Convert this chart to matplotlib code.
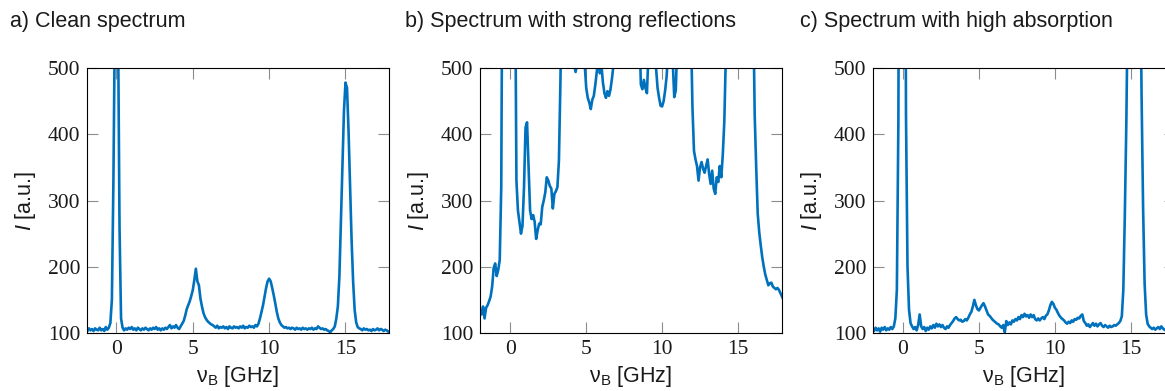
import matplotlib
matplotlib.use("Agg")
import matplotlib.pyplot as plt
import numpy as np

# ---------------- data ----------------
# frequency grid (GHz), 0.1 GHz step from -2.0 to 18.0
freq = np.linspace(-2.0, 18.0, 201)

clean = [
    105, 103, 107, 104, 106, 103, 107, 105, 104, 108,   # -2.0 .. -1.1
    104, 106, 103, 109, 105, 108, 115, 150, 330, 580,   # -1.0 .. -0.1
    900, 580, 260, 122, 108, 104, 107, 105, 108, 106,   #  0.0 ..  0.9
    109, 105, 107, 104, 108, 106, 104, 107, 105, 108,   #  1.0 ..  1.9
    106, 104, 107, 105, 108, 106, 109, 105, 107, 104,   #  2.0 ..  2.9
    107, 105, 108, 106, 109, 112, 107, 110, 108, 112,   #  3.0 ..  3.9
    108, 106, 110, 114, 118, 126, 136, 142, 148, 156,   #  4.0 ..  4.9
    165, 180, 197, 178, 172, 152, 140, 130, 124, 120,   #  5.0 ..  5.9
    117, 115, 113, 112, 110, 108, 111, 107, 109, 108,   #  6.0 ..  6.9
    110, 107, 109, 106, 110, 108, 107, 110, 108, 109,   #  7.0 ..  7.9
    107, 110, 108, 111, 107, 109, 108, 111, 109, 110,   #  8.0 ..  8.9
    108, 112, 110, 114, 122, 132, 142, 155, 168, 178,   #  9.0 ..  9.9
    182, 178, 168, 157, 145, 132, 122, 116, 112, 110,   # 10.0 .. 10.9
    108, 109, 107, 108, 106, 108, 107, 105, 108, 106,   # 11.0 .. 11.9
    107, 105, 108, 106, 107, 105, 107, 106, 108, 105,   # 12.0 .. 12.9
    107, 106, 110, 108, 106, 107, 105, 106, 104, 103,   # 13.0 .. 13.9
    101, 104, 106, 110, 122, 140, 185, 270, 355, 435,   # 14.0 .. 14.9
    478, 470, 405, 320, 240, 178, 135, 116, 109, 107,   # 15.0 .. 15.9
    106, 104, 107, 105, 106, 104, 105, 103, 106, 104,   # 16.0 .. 16.9
    105, 107, 104, 106, 105, 103, 105, 104, 102, 103,   # 17.0 .. 17.9
    103,                                                # 18.0
]

reflections = [
    135, 128, 140, 122, 138, 142, 148, 155, 170, 198,   # -2.0 .. -1.1
    205, 186, 195, 210, 320, 800, 1200, 1500, 1700, 1800,  # -1.0 .. -0.1
    1700, 1300, 900, 700, 330, 285, 268, 250, 262, 320,  #  0.0 ..  0.9
    410, 418, 350, 285, 272, 278, 268, 242, 255, 265,   #  1.0 ..  1.9
    264, 290, 300, 312, 335, 330, 322, 318, 288, 310,   #  2.0 ..  2.9
    314, 320, 360, 480, 650, 720, 770, 780, 720, 650,   #  3.0 ..  3.9
    580, 530, 505, 494, 508, 560, 600, 580, 540, 505,   #  4.0 ..  4.9
    470, 455, 448, 438, 452, 458, 475, 495, 520, 492,   #  5.0 ..  5.9
    505, 478, 462, 455, 465, 458, 468, 485, 505, 540,   #  6.0 ..  6.9
    600, 650, 680, 700, 690, 700, 680, 690, 700, 680,   #  7.0 ..  7.9
    660, 640, 620, 600, 580, 560, 475, 468, 482, 470,   #  8.0 ..  8.9
    462, 520, 580, 590, 560, 540, 500, 470, 455, 443,   #  9.0 ..  9.9
    442, 450, 466, 488, 530, 570, 550, 510, 456, 466,   # 10.0 .. 10.9
    540, 600, 650, 680, 700, 690, 670, 640, 600, 560,   # 11.0 .. 11.9
    440, 375, 362, 352, 330, 350, 358, 348, 342, 352,   # 12.0 .. 12.9
    362, 340, 325, 345, 318, 310, 335, 328, 352, 335,   # 13.0 .. 13.9
    370, 420, 520, 650, 800, 950, 1100, 1250, 1400, 1500,  # 14.0 .. 14.9
    1600, 1650, 1600, 1500, 1400, 1250, 1100, 950, 800, 700,  # 15.0 .. 15.9
    600, 430, 350, 280, 252, 232, 214, 200, 188, 180,   # 16.0 .. 16.9
    172, 175, 176, 170, 168, 166, 168, 165, 160, 155,   # 17.0 .. 17.9
    150,                                                # 18.0
]

absorption = [
    106, 103, 108, 104, 107, 102, 108, 105, 109, 104,   # -2.0 .. -1.1
    107, 105, 109, 106, 110, 122, 165, 420, 1200, 2000,  # -1.0 .. -0.1
    2000, 1200, 430, 200, 135, 115, 110, 106, 109, 104,  #  0.0 ..  0.9
    112, 128, 110, 106, 109, 103, 108, 105, 110, 107,   #  1.0 ..  1.9
    112, 108, 114, 110, 113, 109, 112, 108, 106, 110,   #  2.0 ..  2.9
    108, 112, 115, 118, 122, 124, 121, 119, 120, 117,   #  3.0 ..  3.9
    118, 121, 119, 123, 128, 132, 140, 150, 142, 136,   #  4.0 ..  4.9
    134, 138, 142, 145, 140, 134, 128, 126, 123, 120,   #  5.0 ..  5.9
    118, 116, 114, 113, 110, 108, 112, 101, 118, 112,   #  6.0 ..  6.9
    116, 113, 119, 117, 121, 119, 124, 121, 127, 124,   #  7.0 ..  7.9
    129, 125, 127, 123, 128, 124, 127, 121, 119, 122,   #  8.0 ..  8.9
    119, 122, 124, 121, 126, 128, 134, 142, 147, 144,   #  9.0 ..  9.9
    138, 135, 130, 126, 123, 121, 119, 116, 114, 117,   # 10.0 .. 10.9
    115, 119, 117, 121, 120, 123, 122, 126, 128, 118,   # 11.0 .. 11.9
    115, 111, 113, 109, 112, 115, 111, 114, 110, 113,   # 12.0 .. 12.9
    115, 111, 109, 112, 110, 108, 111, 109, 110, 112,   # 13.0 .. 13.9
    111, 113, 115, 118, 125, 165, 280, 420, 620, 1100,  # 14.0 .. 14.9
    1700, 2000, 2100, 2000, 1600, 1100, 700, 460, 290, 175,  # 15.0 .. 15.9
    128, 114, 110, 108, 106, 108, 105, 107, 109, 106,   # 16.0 .. 16.9
    110, 107, 105, 104, 106, 103, 105, 104, 106, 103,   # 17.0 .. 17.9
    104,                                                # 18.0
]

titles = ["a) Clean spectrum",
          "b) Spectrum with strong reflections",
          "c) Spectrum with high absorption"]
series = [clean, reflections, absorption]
xlims = [(-1.93, 17.85), (-2.0, 17.9), (-1.97, 17.9)]
xticks = [0, 5, 10, 15]
yticks = [100, 200, 300, 400, 500]

# ---------------- style ----------------
plt.rcParams["font.family"] = ["Liberation Sans", "DejaVu Sans"]
plt.rcParams["mathtext.fontset"] = "custom"
plt.rcParams["mathtext.rm"] = "Liberation Sans"
plt.rcParams["mathtext.it"] = "Liberation Sans:italic"

W, H = 1165, 391
fig = plt.figure(figsize=(W / 100, H / 100), dpi=100)

ax_left_px = [87, 480, 873]
ax_w_px = 302
ax_top_px, ax_bot_px = 68, 333
title_x_px = [10, 405, 800]
blue = "#0072BD"

for i in range(3):
    ax = fig.add_axes([ax_left_px[i] / W, (H - ax_bot_px) / H,
                       ax_w_px / W, (ax_bot_px - ax_top_px) / H])
    ax.plot(freq, series[i], color=blue, lw=1.9, solid_joinstyle="round")
    ax.set_xlim(*xlims[i])
    ax.set_ylim(100, 500)
    ax.set_xticks(xticks)
    ax.set_yticks(yticks)
    ax.tick_params(direction="in", length=7.9, width=0.8, color="#8c8c8c",
                   top=True, right=True, labelsize=15.5, pad=5,
                   labelcolor="#1a1a1a")
    for lab in ax.get_xticklabels() + ax.get_yticklabels():
        lab.set_fontfamily("Liberation Serif")
    for sp in ax.spines.values():
        sp.set_linewidth(0.8)
        sp.set_color("black")
    ax.set_xlabel("ν$_\\mathrm{B}$ [GHz]", fontsize=15.5, color="#1a1a1a")
    ax.set_ylabel("$I$ [a.u.]", fontsize=15.5, color="#1a1a1a")
    ax.xaxis.set_label_coords(0.5, -0.116)
    ax.yaxis.set_label_coords(-0.163, 0.5)
    fig.text(title_x_px[i] / W, 1 - 22 / H, titles[i], fontsize=15.5,
             ha="left", va="center", color="#1a1a1a")

fig.savefig("out.png", dpi=100)
